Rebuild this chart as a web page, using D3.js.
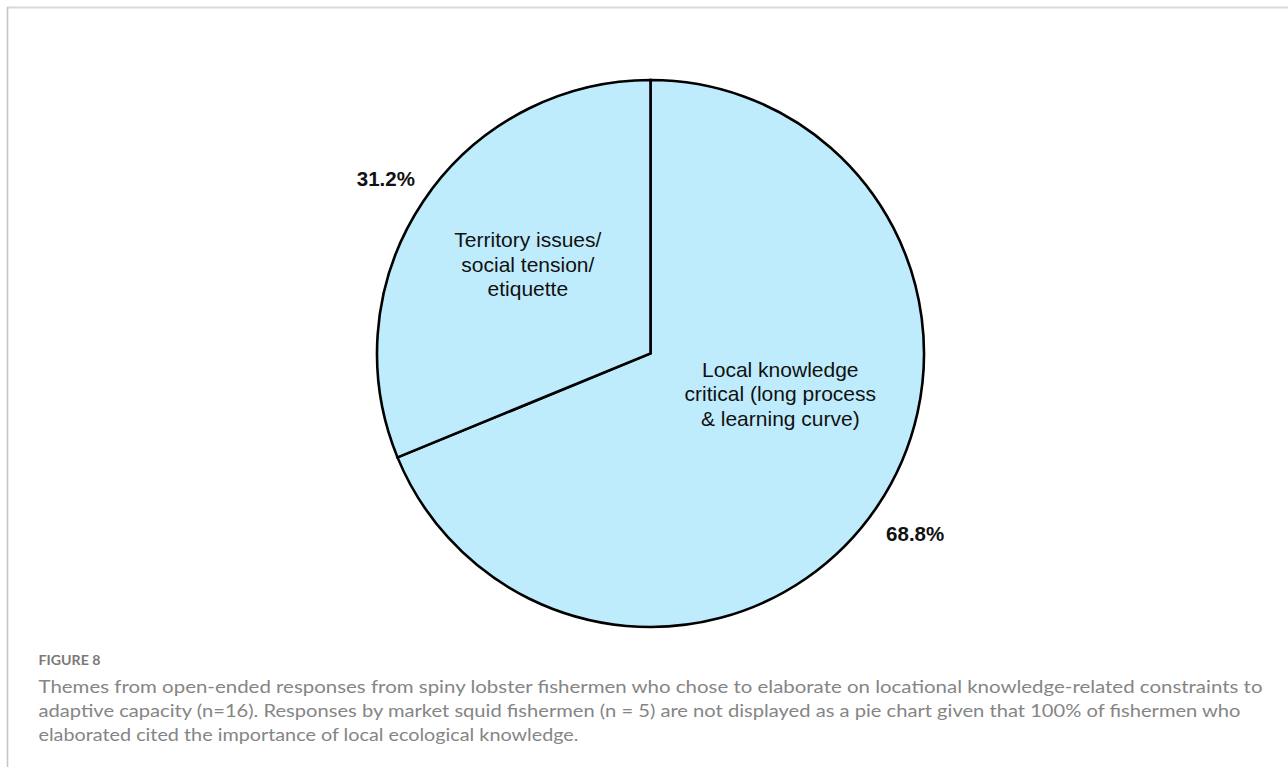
<!DOCTYPE html>
<html>
<head>
<meta charset="utf-8">
<script src="https://cdn.jsdelivr.net/npm/d3@7"></script>
<style>
  html, body { margin: 0; padding: 0; background: #fff; }
  svg { display: block; }
</style>
</head>
<body>
<svg id="chart" width="1288" height="767"></svg>
<script>
// Themes cited by spiny lobster fishermen (n=16)
const themes = [
  ["Local knowledge", "critical (long process", "& learning curve)"],
  ["Territory issues/", "social tension/", "etiquette"]
];
const shares = [68.8, 31.2];
const shareLabels = ["68.8%", "31.2%"];

const figureLabel = "FIGURE 8";
const captionLines = [
  "Themes from open-ended responses from spiny lobster fishermen who chose to elaborate on locational knowledge-related constraints to",
  "adaptive capacity (n=16). Responses by market squid fishermen (n = 5) are not displayed as a pie chart given that 100% of fishermen who",
  "elaborated cited the importance of local ecological knowledge."
];

const W = 1288, H = 767;
const cx = 650.5, cy = 353.5, R = 273.5;
const sliceFill = "#bfecfc";

const svg = d3.select("#chart");

// panel frame (top and left rules)
svg.append("line")
  .attr("x1", 7).attr("x2", W).attr("y1", 7.5).attr("y2", 7.5)
  .attr("stroke", "#d9d9d9").attr("stroke-width", 2);
svg.append("line")
  .attr("x1", 7.5).attr("x2", 7.5).attr("y1", 7).attr("y2", H)
  .attr("stroke", "#c6c6c6").attr("stroke-width", 1.6);

const data = shares.map((v, i) => ({ value: v, lines: themes[i], pct: shareLabels[i] }));

const pie = d3.pie().value(d => d.value).sort(null);
const arcs = pie(data);
const arc = d3.arc().innerRadius(0).outerRadius(R);

const g = svg.append("g").attr("transform", `translate(${cx},${cy})`);

g.selectAll("path.slice")
  .data(arcs)
  .join("path")
  .attr("class", "slice")
  .attr("d", arc)
  .attr("fill", sliceFill)
  .attr("stroke", "#000")
  .attr("stroke-width", 2.6)
  .attr("stroke-linejoin", "miter");

// placement of theme text inside each slice: fraction along the slice angle, fraction of radius
const innerPlacement = [
  { t: 0.433, r: 0.497 },
  { t: 0.52, r: 0.555 }
];

function polar(angle, radius) {
  return [radius * Math.sin(angle), -radius * Math.cos(angle)];
}

const fontFamily = "'Liberation Sans', Arial, Helvetica, sans-serif";
const lineGap = 24.6;

arcs.forEach((a, i) => {
  const p = innerPlacement[i];
  const ang = a.startAngle + (a.endAngle - a.startAngle) * p.t;
  const [x, y] = polar(ang, R * p.r);
  const n = a.data.lines.length;
  const txt = g.append("text")
    .attr("text-anchor", "middle")
    .attr("font-family", fontFamily)
    .attr("font-size", 21)
    .attr("fill", "#111");
  a.data.lines.forEach((line, k) => {
    txt.append("tspan")
      .attr("x", x)
      .attr("y", y + (k - (n - 1) / 2) * lineGap + 7.5)
      .text(line);
  });
});

// percentage labels just outside the rim
const outerArc = d3.arc().innerRadius(R * 1.165).outerRadius(R * 1.165);
g.selectAll("text.pct")
  .data(arcs)
  .join("text")
  .attr("class", "pct")
  .attr("transform", d => `translate(${outerArc.centroid(d)})`)
  .attr("dy", "0.5em")
  .attr("text-anchor", "middle")
  .attr("font-family", fontFamily)
  .attr("font-weight", "bold")
  .attr("font-size", 20.5)
  .attr("fill", "#111")
  .text(d => d.data.pct);

// caption
svg.append("text")
  .attr("x", 38.5).attr("y", 665)
  .attr("font-family", "Lato, 'Open Sans', sans-serif")
  .attr("font-weight", "bold")
  .attr("font-size", 14)
  .attr("fill", "#7a7a7a")
  .attr("textLength", 62)
  .attr("lengthAdjust", "spacingAndGlyphs")
  .text(figureLabel);

const capWidths = [1224, 1202, 540];
svg.append("g")
  .selectAll("text")
  .data(captionLines)
  .join("text")
  .attr("x", 38.5)
  .attr("y", (d, i) => 692.5 + i * 24)
  .attr("font-family", "Lato, 'Open Sans', sans-serif")
  .attr("font-size", 16.5)
  .attr("fill", "#858585")
  .attr("textLength", (d, i) => capWidths[i])
  .attr("lengthAdjust", "spacingAndGlyphs")
  .text(d => d);
</script>
</body>
</html>
